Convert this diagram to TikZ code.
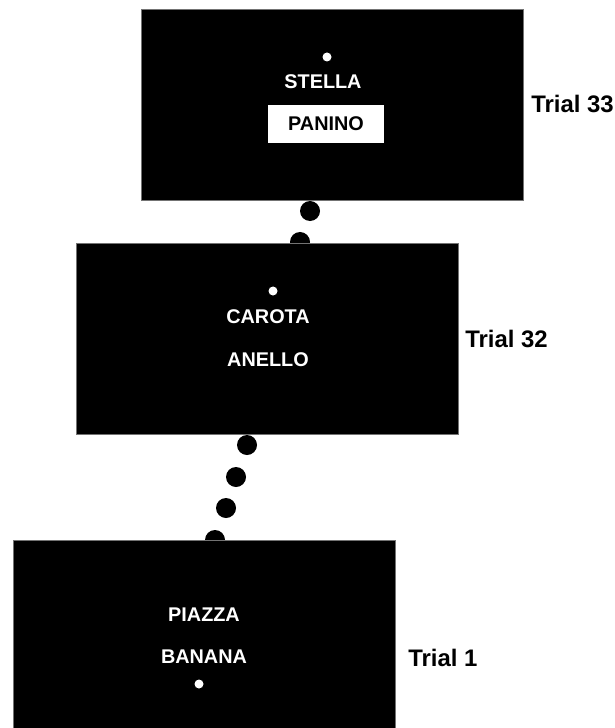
\documentclass[tikz,border=0pt]{standalone}
\usepackage{fontspec}
\setmainfont{Liberation Sans}
\usetikzlibrary{positioning}

\begin{document}
\begin{tikzpicture}[
  x=0.025cm, y=-0.025cm, % one unit = one pixel of the layout
  screen/.style={rectangle, fill=black, draw=black!55, line width=0.3pt, minimum width=9.55cm, minimum height=4.775cm, inner sep=0pt},
  word/.style={anchor=base, text=white, font=\fontsize{14.1}{16}\selectfont\bfseries, inner sep=0pt},
  probe/.style={rectangle, fill=white, minimum width=2.9cm, minimum height=0.95cm, inner sep=0pt},
  fix/.style={circle, fill=white, minimum size=0.225cm, inner sep=0pt},
  gap/.style={circle, fill=black, minimum size=0.5cm, inner sep=0pt},
  lbl/.style={anchor=base west, font=\fontsize{17}{20}\selectfont\bfseries, inner sep=0pt}
]
\useasboundingbox (0,0) rectangle (615,728);

% Dots between the trials (drawn first, the screens cover half of them)
\node[gap] (g1) at (310,211) {};
\node[gap] (g2) at (300,242) {};
\node[gap] (g3) at (247,445) {};
\node[gap] (g4) at (236,477) {};
\node[gap] (g5) at (226,508) {};
\node[gap] (g6) at (215,540) {};

% Trial 33
\node[screen] (s33) at (332,104.5) {};
\node[fix] (f33) at (327,57) {};
\node[word] (w33a) at (323,89) {STELLA};
\node[probe] (p33) at (326,124) {};
\node[word, text=black] (w33b) at (326,131) {PANINO};
\node[lbl] (t33) at (531,113) {Trial 33};

% Trial 32
\node[screen] (s32) at (267.5,338.5) {};
\node[fix] (f32) at (273,291) {};
\node[word] (w32a) at (268,323) {CAROTA};
\node[word] (w32b) at (268,366) {ANELLO};
\node[lbl] (t32) at (465,347) {Trial 32};

% Trial 1
\node[screen] (s1) at (204,635.5) {};
\node[word] (w1a) at (204,621) {PIAZZA};
\node[word] (w1b) at (204,663) {BANANA};
\node[fix] (f1) at (199,684) {};
\node[lbl] (t1) at (408,666) {Trial 1};

\end{tikzpicture}
\end{document}
